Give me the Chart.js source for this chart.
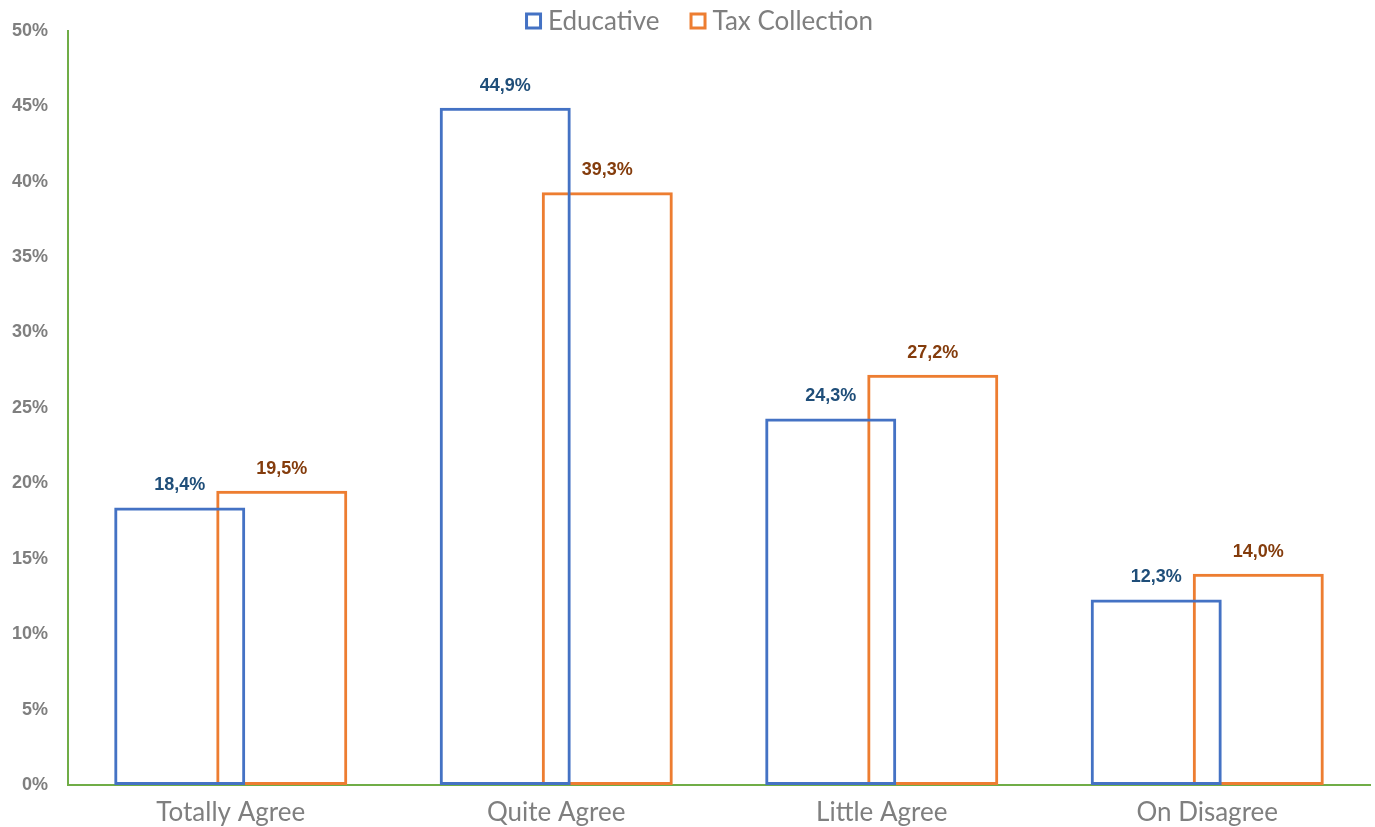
<!DOCTYPE html>
<html>
<head>
<meta charset="utf-8">
<script src="https://cdn.jsdelivr.net/npm/chart.js@4.4.1/dist/chart.umd.min.js"></script>
<style>
  html, body { margin: 0; padding: 0; background: #ffffff; }
  #wrap { width: 1375px; height: 827px; }
</style>
</head>
<body>
<div id="wrap"><canvas id="c" width="1375" height="827"></canvas></div>
<script>
// Survey answers by group, in percent
const categories = ['Totally Agree', 'Quite Agree', 'Little Agree', 'On Disagree'];
const educative = [18.4, 44.9, 24.3, 12.3];
const taxCollection = [19.5, 39.3, 27.2, 14.0];
const yTicks = [0, 5, 10, 15, 20, 25, 30, 35, 40, 45, 50];

const BLUE = '#4472C4';
const ORANGE = '#ED7D31';
const GREEN = '#70AD47';
const GREY = '#7F7F7F';
const TEXT_FONT = 'Lato, "Open Sans", sans-serif';

const fmt = v => v.toFixed(1).replace('.', ',') + '%';

// Value labels above each bar
const valueLabels = {
  id: 'valueLabels',
  afterDatasetsDraw(chart) {
    const ctx = chart.ctx;
    ctx.save();
    ctx.font = 'bold 18px "Liberation Sans", Arial, sans-serif';
    ctx.textAlign = 'center';
    ctx.textBaseline = 'middle';
    chart.data.datasets.forEach((ds, i) => {
      const meta = chart.getDatasetMeta(i);
      ctx.fillStyle = ds.labelColor;
      meta.data.forEach((bar, j) => {
        ctx.fillText(fmt(ds.data[j]), bar.x, bar.y - 22);
      });
    });
    ctx.restore();
  }
};

// Compact legend strip above the plot: outlined squares plus series names
const topLegend = {
  id: 'topLegend',
  afterDraw(chart) {
    const ctx = chart.ctx;
    const box = 17, stroke = 3, boxGap = 6, itemGap = 30, midY = 22;
    ctx.save();
    ctx.font = '26px ' + TEXT_FONT;
    ctx.textBaseline = 'middle';
    ctx.textAlign = 'left';
    const items = chart.data.datasets.map(ds => ({
      text: ds.label, color: ds.borderColor, w: ctx.measureText(ds.label).width
    }));
    const total = items.reduce((s, it) => s + box + boxGap + it.w, 0) + itemGap * (items.length - 1);
    let x = 699 - total / 2;
    items.forEach(it => {
      ctx.strokeStyle = it.color;
      ctx.lineWidth = stroke;
      ctx.strokeRect(x + stroke / 2, midY - box / 2 + stroke / 2 - 1, box - stroke, box - stroke);
      ctx.fillStyle = GREY;
      ctx.fillText(it.text, x + box + boxGap, midY);
      x += box + boxGap + it.w + itemGap;
    });
    ctx.restore();
  }
};

new Chart(document.getElementById('c'), {
  type: 'bar',
  data: {
    labels: categories,
    datasets: [
      {
        label: 'Educative',
        data: educative,
        backgroundColor: 'rgba(0,0,0,0)',
        borderColor: BLUE,
        borderWidth: 3,
        borderSkipped: false,
        labelColor: '#1F4E79'
      },
      {
        label: 'Tax Collection',
        data: taxCollection,
        backgroundColor: 'rgba(0,0,0,0)',
        borderColor: ORANGE,
        borderWidth: 3,
        borderSkipped: false,
        labelColor: '#843C0C'
      }
    ]
  },
  options: {
    responsive: false,
    animation: false,
    categoryPercentage: 0.627,
    barPercentage: 1.284,
    layout: { padding: { left: 0, right: 5, top: 28, bottom: 0 } },
    plugins: {
      legend: { display: false },
      tooltip: { enabled: false }
    },
    scales: {
      x: {
        grid: { display: false, drawTicks: false },
        border: { color: GREEN, width: 2 },
        ticks: {
          color: GREY,
          padding: 12,
          font: { family: TEXT_FONT, size: 26 }
        },
        afterFit(scale) { scale.height = 42; }
      },
      y: {
        min: 0,
        max: 50,
        grid: { display: false, drawTicks: false },
        border: { color: GREEN, width: 2 },
        afterBuildTicks(scale) { scale.ticks = yTicks.map(v => ({ value: v })); },
        ticks: {
          color: GREY,
          padding: 20,
          font: { family: '"Liberation Sans", Arial, sans-serif', size: 18, weight: 'bold' },
          callback: v => v + '%'
        },
        afterFit(scale) { scale.width = 68; }
      }
    }
  },
  plugins: [valueLabels, topLegend]
});
</script>
</body>
</html>
